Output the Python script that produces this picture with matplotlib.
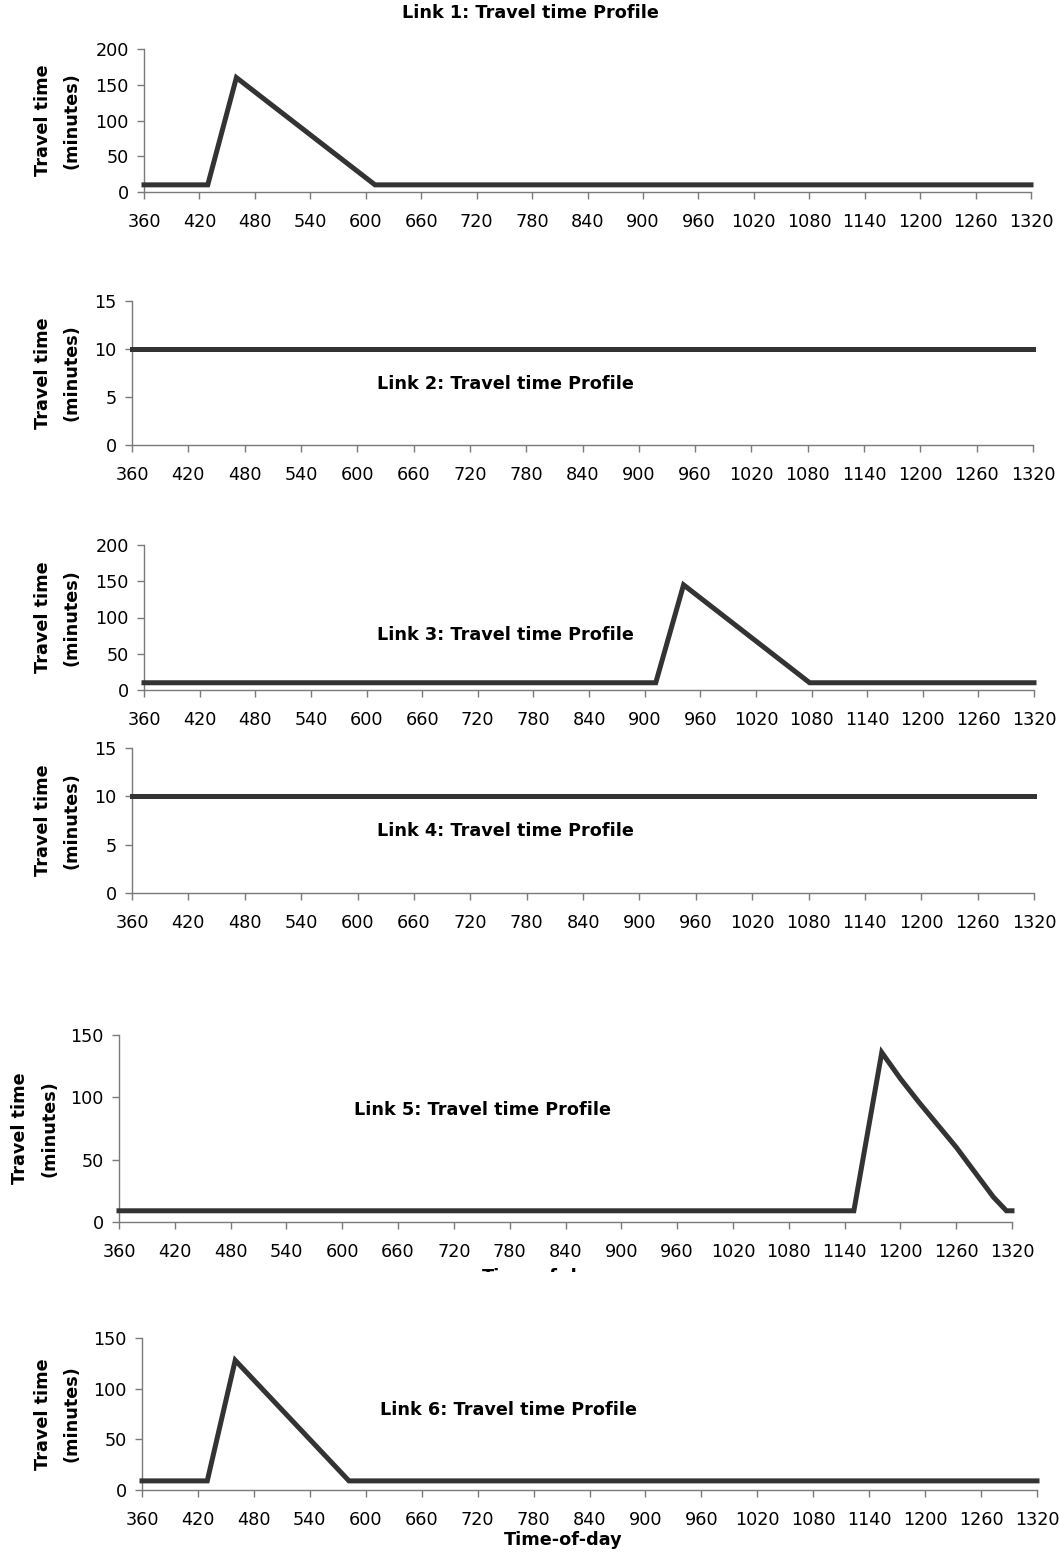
import matplotlib
matplotlib.use("Agg")
import matplotlib.pyplot as plt
from matplotlib.patches import Rectangle

plt.rcParams['font.family'] = ['DejaVu Sans']

W, H = 1059, 1555

# Time-of-day tick labels (minutes after midnight)
xticks = [360, 420, 480, 540, 600, 660, 720, 780, 840, 900, 960, 1020,
          1080, 1140, 1200, 1260, 1320]

# Travel time profiles (minutes) for each link
link1_t = [360, 429, 460, 610, 1320]
link1_v = [10, 10, 160, 10, 10]

link2_t = [360, 1320]
link2_v = [10, 10]

link3_t = [360, 912, 942, 1078, 1320]
link3_v = [10, 10, 145, 10, 10]

link4_t = [360, 1320]
link4_v = [10, 10]

link5_t = [360, 1150, 1180, 1200, 1220, 1240, 1260, 1280, 1300, 1314, 1320]
link5_v = [9, 9, 136, 115, 96, 78, 60, 40, 20, 9, 9]

link6_t = [360, 430, 460, 582, 1320]
link6_v = [9, 9, 128, 9, 9]

series = [(link1_t, link1_v), (link2_t, link2_v), (link3_t, link3_v),
          (link4_t, link4_v), (link5_t, link5_v), (link6_t, link6_v)]
yticks = [[0, 50, 100, 150, 200], [0, 5, 10, 15], [0, 50, 100, 150, 200],
          [0, 5, 10, 15], [0, 50, 100, 150], [0, 50, 100, 150]]
titles = ["Link %d: Travel time Profile" % i for i in range(1, 7)]

# panel frames in pixels: left, right, top, bottom
frames = [(144, 1031, 49, 192), (132, 1033, 301, 445), (144, 1034, 545, 690),
          (132, 1034, 748, 893), (119, 1012, 1035, 1222), (142, 1037, 1338, 1490)]
title_pos = [(530, 13), (505, 384), (505, 635), (505, 831), (482, 1110), (508, 1410)]
ylabel_x = [(43, 72), (43, 72), (43, 72), (43, 72), (20, 49), (43, 72)]

FS = 12.7
LINE = '#333333'
AXC = '#7a7a7a'

fig = plt.figure(figsize=(W / 100, H / 100), dpi=100)

def px2fig(x, y):
    return x / W, 1 - y / H

for i, ((t, v), yt, (l, r, top, bot)) in enumerate(zip(series, yticks, frames)):
    ax = fig.add_axes([l / W, 1 - bot / H, (r - l) / W, (bot - top) / H])
    ax.plot(t, v, color=LINE, lw=3.6, solid_joinstyle='miter', clip_on=False, zorder=3)
    ax.set_xlim(360, 1320)
    ax.set_ylim(yt[0], yt[-1])
    ax.set_xticks(xticks)
    ax.set_yticks(yt)
    for s in ('top', 'right'):
        ax.spines[s].set_visible(False)
    for s in ('left', 'bottom'):
        ax.spines[s].set_color(AXC)
        ax.spines[s].set_linewidth(1.0)
    ax.tick_params(axis='both', direction='out', length=5, width=1.0, color=AXC,
                   labelsize=FS, labelcolor='black')
    ax.tick_params(axis='x', pad=10)
    ax.tick_params(axis='y', pad=6)
    ax.patch.set_alpha(0)

    yc = (top + bot) / 2
    for txt, xp in zip(("Travel time", "(minutes)"), ylabel_x[i]):
        fx, fy = px2fig(xp, yc)
        fig.text(fx, fy, txt, rotation=90, ha='center', va='center',
                 fontsize=FS, fontweight='bold')

    tx, ty = px2fig(*title_pos[i])
    fig.text(tx, ty, titles[i], ha='center', va='center', fontsize=FS, fontweight='bold')

# axis title under the last panel
fx, fy = px2fig(563, 1540)
fig.text(fx, fy, "Time-of-day", ha='center', va='center', fontsize=FS, fontweight='bold')

# axis title of panel 5, partly hidden by the strip below it
fx, fy = px2fig(541, 1277)
fig.text(fx, fy, "Time-of-day", ha='center', va='center', fontsize=FS,
         fontweight='bold', zorder=1)
x0, y0 = px2fig(400, 1296)
fig.patches.append(Rectangle((x0, y0), 300 / W, 24 / H, transform=fig.transFigure,
                             facecolor='white', edgecolor='none', zorder=2))

fig.savefig("out.png", dpi=100, facecolor='white')
